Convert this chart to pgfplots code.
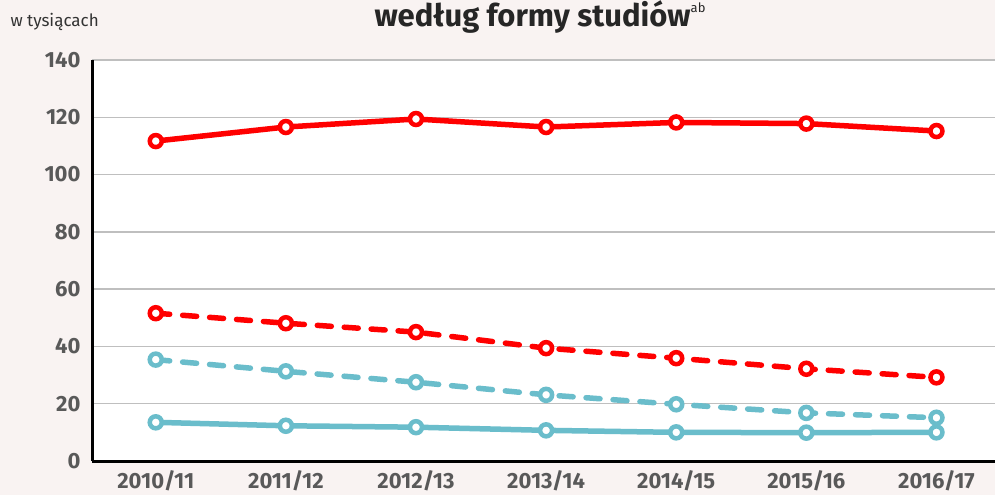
\documentclass[border=0pt]{standalone}
\usepackage{pgfplots}
\pgfplotsset{compat=1.18}
\usepackage{fontspec}
\setmainfont{Fira Sans}
\definecolor{bg}{HTML}{F9F3F2}
\definecolor{myred}{HTML}{FF0000}
\definecolor{mycyan}{HTML}{6ABDCB}
\definecolor{tickc}{HTML}{595959}
\definecolor{gridc}{HTML}{BFBFBF}
\begin{document}
\begin{tikzpicture}[x=1pt,y=1pt]
\fill[bg] (0,0) rectangle (995,495);
\useasboundingbox (0,0) rectangle (995,495);
\node[anchor=base west, text=black!80, font=\fontsize{17}{19}\selectfont] at (7,468) {w tysiącach};
\node[anchor=base, font=\fontsize{31}{34}\selectfont\bfseries, text=black!85] at (540,468) {według formy studiów\raisebox{14pt}{\fontsize{13}{13}\selectfont\mdseries ab}};
\begin{axis}[at={(92pt,34pt)}, anchor=south west, scale only axis,
  width=903pt, height=401pt,
  xmin=-0.49, xmax=6.45, ymin=0, ymax=140,
  ytick={0,20,...,140}, xtick={0,...,6},
  xticklabels={2010/11,2011/12,2012/13,2013/14,2014/15,2015/16,2016/17},
  axis background/.style={fill=white},
  ymajorgrids, grid style={gridc, line width=1.5pt},
  axis lines=left, axis line style={-, black, line width=3pt},
  major tick length=0pt,
  /pgf/number format/assume math mode=true,
  ticklabel style={font=\fontsize{22}{25}\selectfont\bfseries, text=tickc},
  yticklabel style={xshift=-8pt},
  xticklabel style={yshift=-6pt},
  every axis plot/.append style={line width=5.5pt, mark=*, mark size=6pt,
    mark options={solid, fill=white, line width=4.5pt}},
  clip=false]
\addplot[myred] coordinates {(0,111.7)(1,116.6)(2,119.4)(3,116.6)(4,118.2)(5,117.8)(6,115.2)};
\addplot[myred, line cap=round, dash pattern=on 14pt off 13pt] coordinates {(0,51.6)(1,48.1)(2,45.0)(3,39.4)(4,35.9)(5,32.2)(6,29.2)};
\addplot[mycyan, line cap=round, dash pattern=on 14pt off 13pt] coordinates {(0,35.4)(1,31.3)(2,27.5)(3,23.1)(4,19.8)(5,16.8)(6,15.1)};
\addplot[mycyan] coordinates {(0,13.5)(1,12.3)(2,11.8)(3,10.7)(4,10.0)(5,9.9)(6,10.0)};
\end{axis}
\end{tikzpicture}
\end{document}
